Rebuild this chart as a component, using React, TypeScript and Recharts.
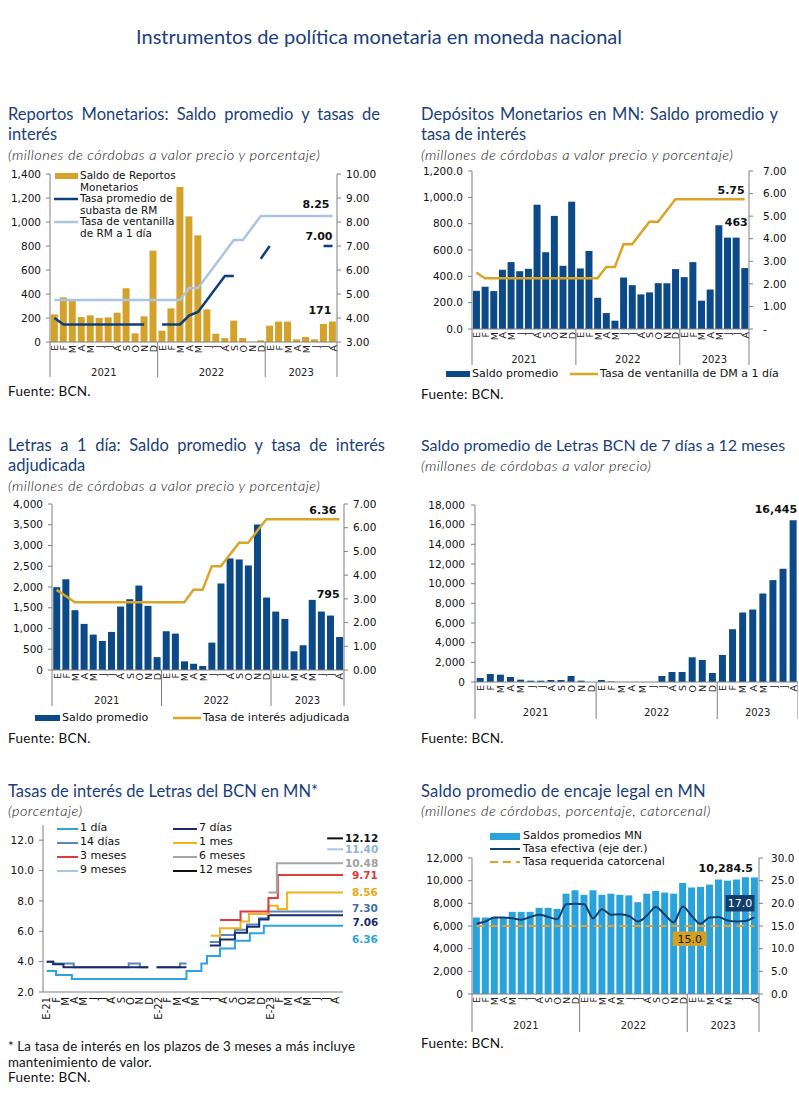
import React from 'react';
import { ComposedChart, BarChart, LineChart, Bar, Line, XAxis, YAxis, LabelList } from 'recharts';

// ---------------- periods ----------------
const MONTH_LETTERS = ['E', 'F', 'M', 'A', 'M', 'J', 'J', 'A', 'S', 'O', 'N', 'D'];
const YEARS = ['2021', '2022', '2023'];
const MONTHS_PER_YEAR = [12, 12, 8];

// ---------------- chart 1: Reportos Monetarios ----------------
const reportosSaldo = [230, 372, 345, 208, 222, 200, 205, 244, 447, 72, 214, 761, 94, 280, 1292, 1047, 889, 272, 69, 33, 178, 33, 0, 14, 136, 170, 170, 22, 42, 22, 150, 171];
const reportosTasaSubasta = [4.0, 3.73, 3.73, 3.73, 3.73, 3.73, 3.73, 3.73, 3.73, 3.73, 3.73, null, 3.73, 3.73, 3.73, 4.1, 4.25, 4.75, 5.25, 5.75, 5.75, null, null, 6.47, 7.0, null, null, null, null, null, 7.0, 7.0];
const reportosTasaVentanilla = [4.75, 4.75, 4.75, 4.75, 4.75, 4.75, 4.75, 4.75, 4.75, 4.75, 4.75, 4.75, 4.75, 4.75, 4.75, 5.25, 5.25, 5.75, 6.25, 6.75, 7.25, 7.25, 7.75, 8.25, 8.25, 8.25, 8.25, 8.25, 8.25, 8.25, 8.25, 8.25];
const reportosLeftTicks = [0, 200, 400, 600, 800, 1000, 1200, 1400];
const reportosRightTicks = [3, 4, 5, 6, 7, 8, 9, 10];

// ---------------- chart 2: Depósitos Monetarios ----------------
const depositosSaldo = [290, 321, 288, 450, 508, 439, 457, 944, 583, 859, 480, 967, 460, 593, 237, 121, 63, 391, 333, 263, 278, 348, 348, 455, 394, 508, 215, 300, 788, 694, 694, 463];
const depositosTasa = [2.5, 2.25, 2.25, 2.25, 2.25, 2.25, 2.25, 2.25, 2.25, 2.25, 2.25, 2.25, 2.25, 2.25, 2.25, 2.75, 2.75, 3.75, 3.75, 4.25, 4.75, 4.75, 5.25, 5.75, 5.75, 5.75, 5.75, 5.75, 5.75, 5.75, 5.75, 5.75];
const depositosLeftTicks = [0, 200, 400, 600, 800, 1000, 1200];
const depositosRightTicks = [0, 1, 2, 3, 4, 5, 6, 7];

// ---------------- chart 3: Letras a 1 día ----------------
const letras1Saldo = [1996, 2189, 1441, 1111, 853, 700, 918, 1529, 1706, 2036, 1545, 310, 934, 877, 209, 150, 97, 660, 2085, 2688, 2664, 2519, 3509, 1746, 1408, 1231, 451, 596, 1690, 1408, 1312, 795];
const letras1Tasa = [3.38, 3.12, 2.86, 2.86, 2.86, 2.86, 2.86, 2.86, 2.86, 2.86, 2.86, 2.86, 2.86, 2.86, 2.86, 3.38, 3.38, 4.37, 4.37, 4.87, 5.37, 5.37, 5.87, 6.36, 6.36, 6.36, 6.36, 6.36, 6.36, 6.36, 6.36, 6.36];
const letras1LeftTicks = [0, 500, 1000, 1500, 2000, 2500, 3000, 3500, 4000];
const letras1RightTicks = [0, 1, 2, 3, 4, 5, 6, 7];

// ---------------- chart 4: Letras 7 días a 12 meses ----------------
const letrasPlazoSaldo = [408, 815, 747, 509, 238, 136, 136, 204, 204, 611, 136, 0, 204, 50, 0, 0, 0, 0, 611, 1019, 1019, 2513, 2242, 917, 2751, 5367, 7065, 7371, 9001, 10360, 11515, 16445];
const letrasPlazoTicks = [0, 2000, 4000, 6000, 8000, 10000, 12000, 14000, 16000, 18000];

// ---------------- chart 5: Tasas de Letras (step change points: [month position, rate]) ----------------
const RATE_END = 31.8;
const tasa1Dia = [[0, 3.38], [1, 3.12], [2.7, 2.86], [15, 3.38], [16.6, 3.87], [17.2, 4.37], [18.6, 4.87], [20.2, 5.37], [21.8, 5.87], [23.3, 6.36]];
const tasa7Dias = [[0, 4.0], [0.7, 3.83], [1.8, 3.63], [10.9, null], [11.8, 3.63], [15.0, null], [17.5, 5.06], [18.6, 5.45], [20.2, 5.9], [21.5, 6.3], [22.8, 6.77], [23.8, 7.06]];
const tasa14Dias = [[0, 4.0], [0.7, 3.87], [2.9, 3.63], [8.8, 3.87], [10.0, 3.63], [10.9, null], [11.8, 3.63], [14.3, 3.87], [15.0, null], [17.5, 5.3], [18.6, 5.75], [20.2, 6.1], [21.5, 6.45], [22.8, 6.85], [23.8, 7.3]];
const tasa1Mes = [[17.6, 5.71], [18.6, 6.2], [20.8, 6.64], [21.7, 7.13], [23.8, 7.68], [24.8, 7.46], [25.8, 8.56]];
const tasa3Meses = [[18.6, 6.75], [20.8, 7.31], [23.8, 8.19], [24.8, 9.71]];
const tasa6Meses = [[23.8, 8.56], [24.7, 10.48]];
const tasa9Meses = [[30.1, 11.4]];
const tasa12Meses = [[30.1, 12.12]];
const rateTicksY = [2, 4, 6, 8, 10, 12];

// ---------------- chart 6: Encaje legal ----------------
const encajeSaldo = [6750, 6750, 6800, 6750, 7250, 7250, 7250, 7600, 7600, 7500, 8850, 9150, 8750, 9150, 8750, 8850, 8750, 8700, 8100, 8850, 9100, 8950, 8850, 9800, 9400, 9450, 9650, 10100, 10000, 10100, 10300, 10284.5];
const encajeTasaEfectiva = [15.5, 16.0, 16.9, 16.9, 16.7, 16.4, 17.0, 17.5, 17.0, 16.5, 19.8, 19.9, 19.8, 16.7, 18.7, 17.5, 17.6, 17.2, 16.0, 17.3, 19.2, 17.5, 15.8, 19.3, 17.2, 15.5, 16.9, 17.0, 16.2, 16.0, 16.1, 17.0];
const encajeTasaRequerida = [15, 15, 15, 15, 15, 15, 15, 15, 15, 15, 15, 15, 15, 15, 15, 15, 15, 15, 15, 15, 15, 15, 15, 15, 15, 15, 15, 15, 15, 15, 15, 15];
const encajeLeftTicks = [0, 2000, 4000, 6000, 8000, 10000, 12000];
const encajeRightTicks = [0, 5, 10, 15, 20, 25, 30];

// ---------------- styling ----------------
const NUMFONT = '"DejaVu Sans", Verdana, sans-serif';
const TFONT = 'Lato, "Open Sans", sans-serif';
const AXIS = '#808080';
const TITLE_COLOR = '#1B3F7A';
const GOLD_BAR = '#D4A22B';
const NAVY = '#0E3F7A';
const LIGHT_LINE = '#AAC5E2';
const DARK_BAR = '#0C4A87';
const GOLD_LINE = '#DBA427';
const SKY_BAR = '#2AA2DC';

// ---------------- helpers ----------------
const periods: any[] = [];
const groups: any[] = [];
YEARS.forEach((y, yi) => {
  groups.push({ label: y, start: periods.length, count: MONTHS_PER_YEAR[yi] });
  for (let m = 0; m < MONTHS_PER_YEAR[yi]; m++) {
    periods.push({ key: `${y}-${m}`, letter: MONTH_LETTERS[m], tick: m === 0 ? `E-${y.slice(2)}` : MONTH_LETTERS[m] });
  }
});
const N = periods.length;
const LAST = N - 1;

const fmtInt = (v: number) => v.toLocaleString('en-US', { maximumFractionDigits: 0 });
const fmtInt1 = (v: number) => v.toLocaleString('en-US', { minimumFractionDigits: 1, maximumFractionDigits: 1 });
const f2 = (v: number) => v.toFixed(2);
const f1 = (v: number) => v.toFixed(1);

const yTick = { fontSize: 10.5, fontFamily: NUMFONT, fill: '#111' };

function monthTick(plotW: number, depth: number, yearDy: number) {
  const band = plotW / N;
  return (props: any) => {
    const { x, y, payload } = props;
    const i = periods.findIndex((p) => p.key === payload.value);
    if (i < 0) return <g />;
    const els: any[] = [
      <text key="m" transform={`translate(${x + 0.5},${y + 3}) rotate(-90)`} textAnchor="end" dominantBaseline="central" fontSize={9.5} fontFamily={NUMFONT} fill="#222">{periods[i].letter}</text>,
    ];
    groups.forEach((g, gi) => {
      if (i === g.start) els.push(<line key={`s${gi}`} x1={x - band / 2} x2={x - band / 2} y1={y} y2={y + depth} stroke={AXIS} strokeWidth={1} />);
      const mid = g.start + (g.count - 1) / 2;
      if (i === Math.floor(mid)) els.push(<text key={`y${gi}`} x={x + (mid - i) * band} y={y + yearDy} textAnchor="middle" dominantBaseline="central" fontSize={10} fontFamily={NUMFONT} fill="#222">{g.label}</text>);
    });
    if (i === N - 1) els.push(<line key="e" x1={x + band / 2} x2={x + band / 2} y1={y} y2={y + depth} stroke={AXIS} strokeWidth={1} />);
    return <g>{els}</g>;
  };
}

function pos(p: any) {
  const vb = p.viewBox || {};
  const x = p.x ?? vb.x ?? 0;
  const y = p.y ?? vb.y ?? 0;
  const w = p.width ?? 0;
  return { cx: x + (w ? w / 2 : 0), y };
}

function valueLabel(dx: number, dy: number, anchor: string, color = '#111', size = 11) {
  return (p: any) => {
    if (p.value === null || p.value === undefined) return null;
    const { cx, y } = pos(p);
    return (
      <text x={cx + dx} y={y + dy} textAnchor={anchor} dominantBaseline="central" fontSize={size} fontWeight="bold" fontFamily={NUMFONT} fill={color}>
        {p.value}
      </text>
    );
  };
}

function boxLabel(dx: number, dy: number, w: number, h: number, fill: string, color: string, leader?: boolean) {
  return (p: any) => {
    if (p.value === null || p.value === undefined) return null;
    const { cx, y } = pos(p);
    const bx = cx + dx;
    const by = y + dy;
    return (
      <g>
        {leader ? <line x1={bx + w / 2 - 9} y1={by + h / 2} x2={cx} y2={y} stroke="#9a9a9a" strokeWidth={1} /> : null}
        <rect x={bx - w / 2} y={by - h / 2} width={w} height={h} fill={fill} />
        <text x={bx} y={by + 0.5} textAnchor="middle" dominantBaseline="central" fontSize={11} fontFamily={NUMFONT} fill={color}>{p.value}</text>
      </g>
    );
  };
}

function Txt(props: any) {
  const { x, cy, size, children, family = TFONT, color = '#111', italic, bold, weight, width, justify, align, spacing } = props;
  return (
    <div
      style={{
        position: 'absolute',
        left: x,
        top: cy - 0.56 * size,
        fontSize: size,
        lineHeight: `${size}px`,
        fontFamily: family,
        color,
        fontStyle: italic ? 'italic' : 'normal',
        fontWeight: bold ? 'bold' : weight || 'normal',
        letterSpacing: spacing ? `${spacing}px` : undefined,
        width,
        textAlign: justify ? 'justify' : align || 'left',
        textAlignLast: justify ? 'justify' : undefined,
        whiteSpace: justify ? 'normal' : 'nowrap',
      } as any}
    >
      {children}
    </div>
  );
}

function RectSw({ x1, x2, y1, y2, color }: any) {
  return <div style={{ position: 'absolute', left: x1, top: y1, width: x2 - x1, height: y2 - y1, background: color }} />;
}

function LineSw({ x1, x2, y, color, width = 2.5, dash }: any) {
  return (
    <svg style={{ position: 'absolute', left: x1, top: y - 5, overflow: 'visible' }} width={x2 - x1} height={10}>
      <line x1={0} x2={x2 - x1} y1={5} y2={5} stroke={color} strokeWidth={width} strokeDasharray={dash} />
    </svg>
  );
}

function Box({ x, y, children }: any) {
  return <div style={{ position: 'absolute', left: x, top: y }}>{children}</div>;
}

// ---------------- tables ----------------
const table1 = periods.map((p, i) => ({
  key: p.key,
  saldo: reportosSaldo[i],
  subasta: reportosTasaSubasta[i],
  ventanilla: reportosTasaVentanilla[i],
  saldoLbl: i === LAST ? fmtInt(reportosSaldo[i]) : null,
  subastaLbl: i === LAST ? f2(reportosTasaSubasta[i] as number) : null,
  ventLbl: i === LAST ? f2(reportosTasaVentanilla[i]) : null,
}));

const table2 = periods.map((p, i) => ({
  key: p.key,
  saldo: depositosSaldo[i],
  tasa: depositosTasa[i],
  saldoLbl: i === LAST ? fmtInt(depositosSaldo[i]) : null,
  tasaLbl: i === LAST ? f2(depositosTasa[i]) : null,
}));

const table3 = periods.map((p, i) => ({
  key: p.key,
  saldo: letras1Saldo[i],
  tasa: letras1Tasa[i],
  saldoLbl: i === LAST ? fmtInt(letras1Saldo[i]) : null,
  tasaLbl: i === LAST ? f2(letras1Tasa[i]) : null,
}));

const table4 = periods.map((p, i) => ({
  key: p.key,
  saldo: letrasPlazoSaldo[i],
  saldoLbl: i === LAST ? fmtInt(letrasPlazoSaldo[i]) : null,
}));

const table6 = periods.map((p, i) => ({
  key: p.key,
  saldo: encajeSaldo[i],
  efectiva: encajeTasaEfectiva[i],
  requerida: encajeTasaRequerida[i],
  saldoLbl: i === LAST ? fmtInt1(encajeSaldo[i]) : null,
  efectivaLbl: i === LAST ? f1(encajeTasaEfectiva[i]) : null,
  requeridaLbl: i === 24 ? f1(encajeTasaRequerida[i]) : null,
}));

function steps(cp: any[], end: number) {
  const out: any[] = [];
  for (let j = 0; j < cp.length; j++) {
    const [k, v] = cp[j];
    const next = j + 1 < cp.length ? cp[j + 1][0] : end;
    if (v === null) {
      out.push({ x: k, y: null, lbl: null });
      continue;
    }
    out.push({ x: k, y: v, lbl: null }, { x: next, y: v, lbl: null });
  }
  const last = out[out.length - 1];
  last.lbl = f2(last.y);
  return out;
}

const rateSeries = [
  { name: '14 días', color: '#5B86B8', pts: steps(tasa14Dias, RATE_END), dx: 9, dy: -4, lc: '#3E6FA8' },
  { name: '7 días', color: '#1A2B6D', pts: steps(tasa7Dias, RATE_END), dx: 9.5, dy: 7, lc: '#1A2B6D' },
  { name: '1 día', color: '#2BA4E0', pts: steps(tasa1Dia, RATE_END), dx: 9, dy: 13, lc: '#2BA4E0' },
  { name: '1 mes', color: '#F2B21B', pts: steps(tasa1Mes, RATE_END), dx: 9, dy: 0, lc: '#E8A818' },
  { name: '3 meses', color: '#E0393E', pts: steps(tasa3Meses, RATE_END), dx: 9, dy: 0, lc: '#E0393E' },
  { name: '6 meses', color: '#A6A6A6', pts: steps(tasa6Meses, RATE_END), dx: 2, dy: 0, lc: '#A0A0A0' },
  { name: '9 meses', color: '#A9C6E6', pts: steps(tasa9Meses, RATE_END), dx: 2, dy: 0, lc: '#8DB3D9' },
  { name: '12 meses', color: '#111111', pts: steps(tasa12Meses, RATE_END), dx: 2, dy: 0, lc: '#111111' },
];
const rateColor = (n: string) => rateSeries.find((s) => s.name === n)!.color;
const rateTicksX = periods.map((_, i) => i);

// ---------------- charts ----------------
function Chart1() {
  return (
    <ComposedChart width={385} height={214} data={table1} margin={{ top: 10, right: 0, bottom: 0, left: 0 }} barCategoryGap="9.5%">
      <XAxis dataKey="key" interval={0} tickLine={false} tickSize={0} tickMargin={0} height={36} axisLine={{ stroke: AXIS }} tick={monthTick(287, 35, 30)} />
      <YAxis yAxisId="l" width={50} domain={[0, 1400]} ticks={reportosLeftTicks} interval={0} tickFormatter={fmtInt} tick={yTick} tickSize={4} tickMargin={5} axisLine={{ stroke: AXIS }} tickLine={{ stroke: AXIS }} />
      <YAxis yAxisId="r" orientation="right" width={48} domain={[3, 10]} ticks={reportosRightTicks} interval={0} tickFormatter={f2} tick={yTick} tickSize={4} tickMargin={5} axisLine={{ stroke: AXIS }} tickLine={{ stroke: AXIS }} />
      <Bar yAxisId="l" dataKey="saldo" fill={GOLD_BAR} isAnimationActive={false}>
        <LabelList dataKey="saldoLbl" content={valueLabel(-1, -11, 'end')} />
      </Bar>
      <Line yAxisId="r" dataKey="ventanilla" stroke={LIGHT_LINE} strokeWidth={2.5} dot={false} activeDot={false} isAnimationActive={false}>
        <LabelList dataKey="ventLbl" content={valueLabel(-3, -12, 'end')} />
      </Line>
      <Line yAxisId="r" dataKey="subasta" stroke={NAVY} strokeWidth={2.5} dot={false} activeDot={false} isAnimationActive={false}>
        <LabelList dataKey="subastaLbl" content={valueLabel(0, -10, 'end')} />
      </Line>
    </ComposedChart>
  );
}

function Chart2() {
  return (
    <ComposedChart width={384} height={205} data={table2} margin={{ top: 10, right: 0, bottom: 0, left: 0 }} barCategoryGap="11%">
      <XAxis dataKey="key" interval={0} tickLine={false} tickSize={0} tickMargin={0} height={37} axisLine={{ stroke: AXIS }} tick={monthTick(277, 36, 30)} />
      <YAxis yAxisId="l" width={62} domain={[0, 1200]} ticks={depositosLeftTicks} interval={0} tickFormatter={fmtInt1} tick={yTick} tickSize={4} tickMargin={5} axisLine={{ stroke: AXIS }} tickLine={{ stroke: AXIS }} />
      <YAxis yAxisId="r" orientation="right" width={45} domain={[0, 7]} ticks={depositosRightTicks} interval={0} tickFormatter={(v: number) => (v === 0 ? '-' : f2(v))} tick={yTick} tickSize={4} tickMargin={10} axisLine={{ stroke: AXIS }} tickLine={{ stroke: AXIS }} />
      <Bar yAxisId="l" dataKey="saldo" fill={DARK_BAR} isAnimationActive={false}>
        <LabelList dataKey="saldoLbl" content={valueLabel(3, -46, 'end')} />
      </Bar>
      <Line yAxisId="r" dataKey="tasa" stroke={GOLD_LINE} strokeWidth={2.5} dot={false} activeDot={false} isAnimationActive={false}>
        <LabelList dataKey="tasaLbl" content={valueLabel(0, -9, 'end')} />
      </Line>
    </ComposedChart>
  );
}

function Chart3() {
  return (
    <ComposedChart width={390} height={213} data={table3} margin={{ top: 10, right: 0, bottom: 0, left: 0 }} barCategoryGap="13.5%">
      <XAxis dataKey="key" interval={0} tickLine={false} tickSize={0} tickMargin={0} height={37} axisLine={{ stroke: AXIS }} tick={monthTick(292, 36, 30)} />
      <YAxis yAxisId="l" width={52} domain={[0, 4000]} ticks={letras1LeftTicks} interval={0} tickFormatter={fmtInt} tick={yTick} tickSize={4} tickMargin={5} axisLine={{ stroke: AXIS }} tickLine={{ stroke: AXIS }} />
      <YAxis yAxisId="r" orientation="right" width={46} domain={[0, 7]} ticks={letras1RightTicks} interval={0} tickFormatter={f2} tick={yTick} tickSize={4} tickMargin={5} axisLine={{ stroke: AXIS }} tickLine={{ stroke: AXIS }} />
      <Bar yAxisId="l" dataKey="saldo" fill={DARK_BAR} isAnimationActive={false}>
        <LabelList dataKey="saldoLbl" content={valueLabel(0, -43, 'end')} />
      </Bar>
      <Line yAxisId="r" dataKey="tasa" stroke={GOLD_LINE} strokeWidth={2.5} dot={false} activeDot={false} isAnimationActive={false}>
        <LabelList dataKey="tasaLbl" content={valueLabel(-3, -9, 'end')} />
      </Line>
    </ComposedChart>
  );
}

function Chart4() {
  return (
    <BarChart width={388} height={225} data={table4} margin={{ top: 10, right: 0, bottom: 0, left: 0 }} barCategoryGap="17%">
      <XAxis dataKey="key" interval={0} tickLine={false} tickSize={0} tickMargin={0} height={38} axisLine={{ stroke: AXIS }} tick={monthTick(323, 37, 30)} />
      <YAxis width={65} domain={[0, 18000]} ticks={letrasPlazoTicks} interval={0} tickFormatter={fmtInt} tick={yTick} tickSize={4} tickMargin={6} axisLine={{ stroke: AXIS }} tickLine={{ stroke: AXIS }} />
      <Bar dataKey="saldo" fill={DARK_BAR} isAnimationActive={false}>
        <LabelList dataKey="saldoLbl" content={valueLabel(4, -11, 'end')} />
      </Bar>
    </BarChart>
  );
}

function rateTick(props: any) {
  const { x, y, payload } = props;
  const p = periods[payload.value];
  if (!p) return <g />;
  return (
    <text transform={`translate(${x},${y + 5}) rotate(-90)`} textAnchor="end" dominantBaseline="central" fontSize={10} fontFamily={NUMFONT} fill="#111">
      {p.tick}
    </text>
  );
}

function Chart5() {
  return (
    <LineChart width={390} height={211} margin={{ top: 10, right: 47, bottom: 0, left: 0 }}>
      <XAxis type="number" dataKey="x" domain={[-0.4, RATE_END]} ticks={rateTicksX} interval={0} allowDataOverflow tickLine={false} tickSize={0} tickMargin={0} height={34} axisLine={{ stroke: AXIS }} tick={rateTick} />
      <YAxis type="number" width={43} domain={[2, 13]} ticks={rateTicksY} interval={0} tickFormatter={f1} tick={yTick} tickSize={4} tickMargin={5} axisLine={{ stroke: AXIS }} tickLine={{ stroke: AXIS }} allowDataOverflow />
      {rateSeries.map((s) => (
        <Line key={s.name} data={s.pts} dataKey="y" type="linear" stroke={s.color} strokeWidth={2} dot={false} activeDot={false} isAnimationActive={false}>
          <LabelList dataKey="lbl" content={valueLabel(s.dx, s.dy, 'start', s.lc, 10.5)} />
        </Line>
      ))}
    </LineChart>
  );
}

function Chart6() {
  return (
    <ComposedChart width={389} height={185} data={table6} margin={{ top: 10, right: 0, bottom: 0, left: 0 }} barCategoryGap="9.5%">
      <XAxis dataKey="key" interval={0} tickLine={false} tickSize={0} tickMargin={0} height={39} axisLine={{ stroke: AXIS }} tick={monthTick(287, 38, 31)} />
      <YAxis yAxisId="l" width={62} domain={[0, 12000]} ticks={encajeLeftTicks} interval={0} tickFormatter={fmtInt} tick={yTick} tickSize={4} tickMargin={5} axisLine={{ stroke: AXIS }} tickLine={{ stroke: AXIS }} />
      <YAxis yAxisId="r" orientation="right" width={40} domain={[0, 30]} ticks={encajeRightTicks} interval={0} tickFormatter={f1} tick={yTick} tickSize={4} tickMargin={8} axisLine={{ stroke: AXIS }} tickLine={{ stroke: AXIS }} />
      <Bar yAxisId="l" dataKey="saldo" fill={SKY_BAR} isAnimationActive={false}>
        <LabelList dataKey="saldoLbl" content={valueLabel(-1.5, -9, 'end')} />
      </Bar>
      <Line yAxisId="r" dataKey="requerida" stroke="#E0A228" strokeWidth={2} strokeDasharray="8 5" dot={false} activeDot={false} isAnimationActive={false}>
        <LabelList dataKey="requeridaLbl" content={boxLabel(-2, 12.7, 34, 14.5, '#D4A020', '#1a1a1a')} />
      </Line>
      <Line yAxisId="r" dataKey="efectiva" type="monotone" stroke="#123E6E" strokeWidth={2} dot={false} activeDot={false} isAnimationActive={false}>
        <LabelList dataKey="efectivaLbl" content={boxLabel(-14.5, -13.7, 29, 16.5, '#123E6E', '#ffffff', true)} />
      </Line>
    </ComposedChart>
  );
}

// ---------------- page ----------------
export default function App() {
  const T = 16.5;
  const S = 14.5;
  const SS = 0.5;
  const SW = 300;
  const SC = '#111111';
  const F = 13.5;
  return (
    <div style={{ position: 'absolute', left: 0, top: 0, width: 799, height: 1100, background: '#ffffff', overflow: 'hidden' }}>
      <Txt x={0} cy={37} size={20} color={TITLE_COLOR} width={758} align="center">Instrumentos de política monetaria en moneda nacional</Txt>

      {/* Panel 1 */}
      <Txt x={8} cy={115} size={T} color={TITLE_COLOR} width={372} justify>Reportos Monetarios: Saldo promedio y tasas de</Txt>
      <Txt x={8} cy={135} size={T} color={TITLE_COLOR}>interés</Txt>
      <Txt x={8} cy={156} size={S} spacing={SS} weight={SW} italic color={SC}>(millones de córdobas a valor precio y porcentaje)</Txt>
      <Box x={0} y={164}><Chart1 /></Box>
      <RectSw x1={55} x2={78} y1={172.5} y2={179} color={GOLD_BAR} />
      <Txt x={80} cy={175.5} size={10.5} family={NUMFONT}>Saldo de Reportos</Txt>
      <Txt x={80} cy={187.5} size={10.5} family={NUMFONT}>Monetarios</Txt>
      <LineSw x1={54} x2={78} y={198.5} color={NAVY} />
      <Txt x={80} cy={198.5} size={10.5} family={NUMFONT}>Tasa promedio de</Txt>
      <Txt x={80} cy={210.5} size={10.5} family={NUMFONT}>subasta de RM</Txt>
      <LineSw x1={54} x2={78} y={222} color={LIGHT_LINE} />
      <Txt x={80} cy={222} size={10.5} family={NUMFONT}>Tasa de ventanilla</Txt>
      <Txt x={80} cy={234} size={10.5} family={NUMFONT}>de RM a 1 día</Txt>
      <Txt x={8} cy={393} size={F} spacing={0.3}>Fuente: BCN.</Txt>

      {/* Panel 2 */}
      <Txt x={421} cy={115} size={T} color={TITLE_COLOR} width={357} justify>Depósitos Monetarios en MN: Saldo promedio y</Txt>
      <Txt x={421} cy={135} size={T} color={TITLE_COLOR}>tasa de interés</Txt>
      <Txt x={421} cy={156} size={S} spacing={SS} weight={SW} italic color={SC}>(millones de córdobas a valor precio y porcentaje)</Txt>
      <Box x={410} y={161}><Chart2 /></Box>
      <RectSw x1={446} x2={470} y1={371} y2={377} color={DARK_BAR} />
      <Txt x={472} cy={374} size={11} family={NUMFONT}>Saldo promedio</Txt>
      <LineSw x1={570} x2={598} y={374} color={GOLD_LINE} />
      <Txt x={600} cy={374} size={11} family={NUMFONT}>Tasa de ventanilla de DM a 1 día</Txt>
      <Txt x={421} cy={396} size={F} spacing={0.3}>Fuente: BCN.</Txt>

      {/* Panel 3 */}
      <Txt x={8} cy={446} size={T} color={TITLE_COLOR} width={377} justify>Letras a 1 día: Saldo promedio y tasa de interés</Txt>
      <Txt x={8} cy={466} size={T} color={TITLE_COLOR}>adjudicada</Txt>
      <Txt x={8} cy={487} size={S} spacing={SS} weight={SW} italic color={SC}>(millones de córdobas a valor precio y porcentaje)</Txt>
      <Box x={0} y={494}><Chart3 /></Box>
      <RectSw x1={35} x2={60} y1={715} y2={721} color={DARK_BAR} />
      <Txt x={62} cy={718} size={11} family={NUMFONT}>Saldo promedio</Txt>
      <LineSw x1={173} x2={201} y={718} color={GOLD_LINE} />
      <Txt x={203} cy={718} size={11} family={NUMFONT}>Tasa de interés adjudicada</Txt>
      <Txt x={8} cy={740} size={F} spacing={0.3}>Fuente: BCN.</Txt>

      {/* Panel 4 */}
      <Txt x={421} cy={446} size={16} color={TITLE_COLOR}>Saldo promedio de Letras BCN de 7 días a 12 meses</Txt>
      <Txt x={421} cy={467} size={S} spacing={SS} weight={SW} italic color={SC}>(millones de córdobas a valor precio)</Txt>
      <Box x={410} y={495}><Chart4 /></Box>
      <Txt x={421} cy={740} size={F} spacing={0.3}>Fuente: BCN.</Txt>

      {/* Panel 5 */}
      <Txt x={8} cy={792} size={T} color={TITLE_COLOR}>Tasas de interés de Letras del BCN en MN*</Txt>
      <Txt x={8} cy={812} size={S} spacing={SS} weight={SW} italic color={SC}>(porcentaje)</Txt>
      <Box x={0} y={815}><Chart5 /></Box>
      {[['1 día', 828.5], ['14 días', 842.5], ['3 meses', 856.5], ['9 meses', 870.5]].map(([n, y]: any) => (
        <React.Fragment key={n}>
          <LineSw x1={57} x2={78} y={y} color={rateColor(n)} width={2} />
          <Txt x={80} cy={y} size={11} family={NUMFONT}>{n}</Txt>
        </React.Fragment>
      ))}
      {[['7 días', 828.5], ['1 mes', 842.5], ['6 meses', 856.5], ['12 meses', 870.5]].map(([n, y]: any) => (
        <React.Fragment key={n}>
          <LineSw x1={173} x2={197} y={y} color={rateColor(n)} width={2} />
          <Txt x={199} cy={y} size={11} family={NUMFONT}>{n}</Txt>
        </React.Fragment>
      ))}
      <Txt x={8} cy={1047} size={13.3} spacing={0.15}>* La tasa de interés en los plazos de 3 meses a más incluye</Txt>
      <Txt x={8} cy={1063} size={13.3} spacing={0.15}>mantenimiento de valor.</Txt>
      <Txt x={8} cy={1079} size={F} spacing={0.3}>Fuente: BCN.</Txt>

      {/* Panel 6 */}
      <Txt x={421} cy={792} size={T} color={TITLE_COLOR} spacing={0.2}>Saldo promedio de encaje legal en MN</Txt>
      <Txt x={421} cy={812} size={S} spacing={SS} weight={SW} italic color={SC}>(millones de córdobas, porcentaje, catorcenal)</Txt>
      <Box x={410} y={848}><Chart6 /></Box>
      <RectSw x1={490} x2={520} y1={832.5} y2={839.5} color={SKY_BAR} />
      <Txt x={523} cy={836} size={11} family={NUMFONT}>Saldos promedios MN</Txt>
      <LineSw x1={490} x2={520} y={849.3} color="#123E6E" width={2} />
      <Txt x={523} cy={849.3} size={11} family={NUMFONT}>Tasa efectiva (eje der.)</Txt>
      <LineSw x1={490} x2={520} y={861.7} color="#E0A228" width={2} dash="8 5" />
      <Txt x={523} cy={861.7} size={11} family={NUMFONT}>Tasa requerida catorcenal</Txt>
      <Txt x={421} cy={1045} size={F} spacing={0.3}>Fuente: BCN.</Txt>
    </div>
  );
}
